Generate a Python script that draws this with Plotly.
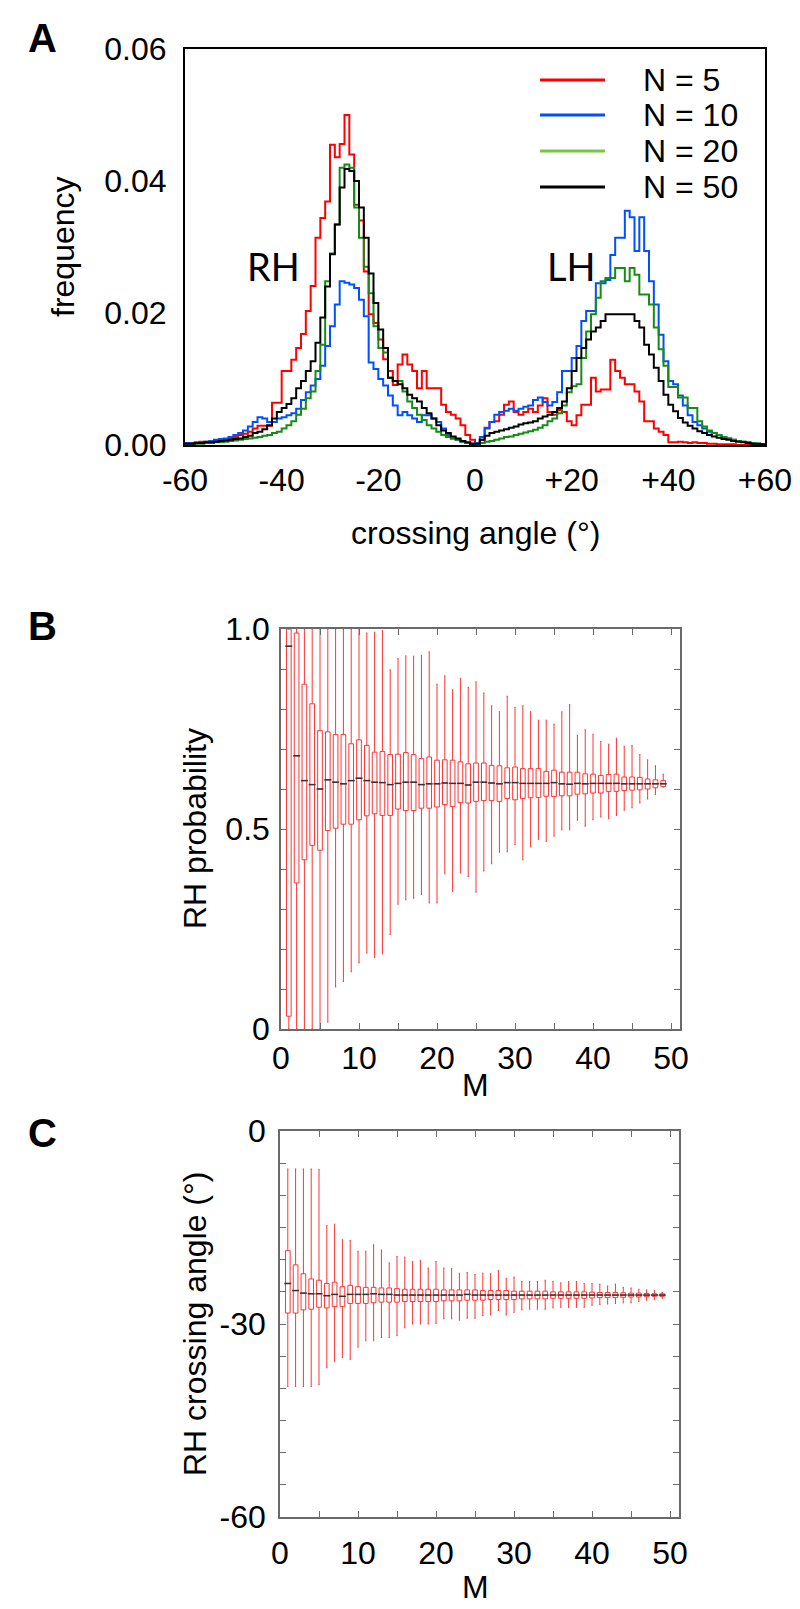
import plotly.graph_objects as go

# ---------------- Panel A data: histogram of crossing angle (1-degree bins, -60..60)
angle_edges = list(range(-60, 61))
freq_n5 = [
    0.0002, 0.0003, 0.0003, 0.0005, 0.0005, 0.0004, 0.0006, 0.0007,
    0.0008, 0.0010, 0.0012, 0.0015, 0.0017, 0.0020, 0.0025, 0.0029,
    0.0029, 0.0029, 0.0064, 0.0064, 0.0112, 0.0112, 0.0129, 0.0147,
    0.0168, 0.0203, 0.0241, 0.0314, 0.0344, 0.0369, 0.0455, 0.0436,
    0.0456, 0.0500, 0.0440, 0.0364, 0.0340, 0.0263, 0.0198, 0.0185,
    0.0160, 0.0130, 0.0112, 0.0091, 0.0122, 0.0137, 0.0122, 0.0112,
    0.0086, 0.0112, 0.0086, 0.0086, 0.0086, 0.0061, 0.0050, 0.0046,
    0.0040, 0.0030, 0.0015, 0.0008,
    0.0003, 0.0008, 0.0026, 0.0035, 0.0036, 0.0046, 0.0061, 0.0066,
    0.0050, 0.0046, 0.0050, 0.0055, 0.0050, 0.0060, 0.0071, 0.0050,
    0.0046, 0.0053, 0.0050, 0.0036, 0.0030, 0.0045, 0.0061, 0.0061,
    0.0102, 0.0081, 0.0084, 0.0084, 0.0129, 0.0112, 0.0102, 0.0092,
    0.0092, 0.0081, 0.0066, 0.0036, 0.0036, 0.0025, 0.0020, 0.0015,
    0.0004, 0.0004, 0.0005, 0.0004, 0.0003, 0.0004, 0.0003, 0.0003,
    0.0002, 0.0002, 0.0001, 0.0001, 0.0001, 0.0001, 0.0000, 0.0000,
    0.0000, 0.0000, 0.0000, 0.0000,
]
freq_n10 = [
    0.0003, 0.0002, 0.0004, 0.0003, 0.0005, 0.0006, 0.0008, 0.0009,
    0.0010, 0.0012, 0.0015, 0.0018, 0.0022, 0.0028, 0.0035, 0.0042,
    0.0040, 0.0035, 0.0035, 0.0040, 0.0042, 0.0045, 0.0048, 0.0055,
    0.0068, 0.0080, 0.0090, 0.0100, 0.0120, 0.0150, 0.0180, 0.0213,
    0.0248, 0.0246, 0.0243, 0.0238, 0.0220, 0.0195, 0.0125, 0.0115,
    0.0100, 0.0090, 0.0075, 0.0060, 0.0045, 0.0050, 0.0045, 0.0040,
    0.0035, 0.0045, 0.0045, 0.0040, 0.0035, 0.0025, 0.0015, 0.0010,
    0.0008, 0.0005, 0.0003, 0.0002,
    0.0003, 0.0012, 0.0025, 0.0035, 0.0046, 0.0050, 0.0052, 0.0055,
    0.0052, 0.0055, 0.0058, 0.0060, 0.0068, 0.0072, 0.0065, 0.0060,
    0.0065, 0.0080, 0.0112, 0.0112, 0.0132, 0.0150, 0.0188, 0.0203,
    0.0203, 0.0245, 0.0245, 0.0250, 0.0288, 0.0314, 0.0314, 0.0355,
    0.0345, 0.0294, 0.0345, 0.0294, 0.0248, 0.0213, 0.0167, 0.0127,
    0.0097, 0.0092, 0.0075, 0.0060, 0.0045, 0.0035, 0.0030, 0.0025,
    0.0020, 0.0018, 0.0015, 0.0012, 0.0010, 0.0008, 0.0006, 0.0005,
    0.0004, 0.0003, 0.0002, 0.0001,
]
freq_n20 = [
    0.0001, 0.0001, 0.0002, 0.0002, 0.0003, 0.0003, 0.0004, 0.0004,
    0.0005, 0.0006, 0.0007, 0.0008, 0.0009, 0.0010, 0.0011, 0.0012,
    0.0014, 0.0015, 0.0018, 0.0020, 0.0025, 0.0030, 0.0036, 0.0046,
    0.0055, 0.0071, 0.0081, 0.0112, 0.0152, 0.0248, 0.0290, 0.0334,
    0.0420, 0.0425, 0.0420, 0.0360, 0.0314, 0.0270, 0.0230, 0.0180,
    0.0147, 0.0140, 0.0102, 0.0097, 0.0097, 0.0081, 0.0066, 0.0056,
    0.0046, 0.0038, 0.0030, 0.0025, 0.0020, 0.0015, 0.0012, 0.0010,
    0.0008, 0.0005, 0.0003, 0.0002,
    0.0001, 0.0003, 0.0005, 0.0006, 0.0008, 0.0010, 0.0012, 0.0013,
    0.0015, 0.0017, 0.0019, 0.0021, 0.0023, 0.0026, 0.0030, 0.0036,
    0.0040, 0.0048, 0.0060, 0.0080, 0.0089, 0.0092, 0.0132, 0.0172,
    0.0198, 0.0223, 0.0248, 0.0253, 0.0253, 0.0268, 0.0268, 0.0248,
    0.0268, 0.0258, 0.0228, 0.0228, 0.0213, 0.0178, 0.0145, 0.0120,
    0.0088, 0.0088, 0.0072, 0.0072, 0.0056, 0.0056, 0.0036, 0.0028,
    0.0022, 0.0018, 0.0015, 0.0012, 0.0010, 0.0008, 0.0006, 0.0005,
    0.0004, 0.0003, 0.0002, 0.0001,
]
freq_n50 = [
    0.0002, 0.0002, 0.0003, 0.0003, 0.0004, 0.0004, 0.0005, 0.0006,
    0.0007, 0.0008, 0.0009, 0.0010, 0.0012, 0.0014, 0.0018, 0.0020,
    0.0024, 0.0030, 0.0040, 0.0050, 0.0056, 0.0062, 0.0071, 0.0086,
    0.0097, 0.0112, 0.0127, 0.0155, 0.0193, 0.0240, 0.0289, 0.0334,
    0.0390, 0.0418, 0.0415, 0.0400, 0.0360, 0.0314, 0.0260, 0.0215,
    0.0175, 0.0147, 0.0102, 0.0097, 0.0092, 0.0086, 0.0076, 0.0071,
    0.0066, 0.0056, 0.0048, 0.0040, 0.0030, 0.0022, 0.0018, 0.0013,
    0.0010, 0.0006, 0.0004, 0.0002,
    0.0002, 0.0008, 0.0014, 0.0018, 0.0020, 0.0022, 0.0024, 0.0026,
    0.0028, 0.0031, 0.0033, 0.0034, 0.0036, 0.0040, 0.0043, 0.0046,
    0.0050, 0.0056, 0.0066, 0.0086, 0.0112, 0.0132, 0.0147, 0.0160,
    0.0172, 0.0178, 0.0188, 0.0198, 0.0198, 0.0198, 0.0198, 0.0198,
    0.0198, 0.0188, 0.0178, 0.0152, 0.0137, 0.0117, 0.0097, 0.0076,
    0.0061, 0.0051, 0.0041, 0.0034, 0.0029, 0.0025, 0.0021, 0.0018,
    0.0015, 0.0013, 0.0011, 0.0009, 0.0008, 0.0006, 0.0005, 0.0004,
    0.0003, 0.0002, 0.0002, 0.0001,
]
series_names = ["N = 5", "N = 10", "N = 20", "N = 50"]
x_ticks_a = [-60, -40, -20, 0, 20, 40, 60]
x_ticktext_a = ["-60", "-40", "-20", "0", "+20", "+40", "+60"]
y_ticks_a = [0, 0.02, 0.04, 0.06]
y_ticktext_a = ["0.00", "0.02", "0.04", "0.06"]

# ---------------- Panel B data: RH probability vs M
m_values = list(range(1, 50))
prob_q1 = [0.032, 0.365, 0.423, 0.459, 0.447, 0.496, 0.502, 0.512, 0.512, 0.523,
           0.533, 0.538, 0.534, 0.534, 0.550, 0.546, 0.546, 0.552, 0.552, 0.555,
           0.561, 0.556, 0.566, 0.565, 0.569, 0.571, 0.571, 0.569, 0.576, 0.573,
           0.576, 0.578, 0.579, 0.582, 0.581, 0.583, 0.583, 0.587, 0.588, 0.590,
           0.590, 0.594, 0.594, 0.596, 0.597, 0.598, 0.600, 0.603, 0.606]
prob_median = [0.957, 0.683, 0.621, 0.611, 0.600, 0.623, 0.617, 0.613, 0.621, 0.627,
               0.621, 0.617, 0.616, 0.611, 0.614, 0.617, 0.617, 0.611, 0.613, 0.613,
               0.615, 0.614, 0.614, 0.610, 0.617, 0.617, 0.615, 0.613, 0.616, 0.616,
               0.614, 0.614, 0.614, 0.614, 0.616, 0.613, 0.612, 0.614, 0.613, 0.614,
               0.614, 0.614, 0.614, 0.613, 0.613, 0.613, 0.613, 0.613, 0.613]
prob_q3 = [1.000, 0.990, 0.862, 0.813, 0.746, 0.743, 0.736, 0.736, 0.713, 0.723,
           0.709, 0.692, 0.694, 0.686, 0.687, 0.691, 0.686, 0.676, 0.680, 0.672,
           0.673, 0.672, 0.668, 0.663, 0.665, 0.665, 0.659, 0.658, 0.653, 0.655,
           0.651, 0.651, 0.651, 0.644, 0.647, 0.642, 0.642, 0.642, 0.638, 0.637,
           0.634, 0.636, 0.637, 0.630, 0.630, 0.629, 0.625, 0.623, 0.621]
prob_min = [0.000, 0.000, 0.000, 0.000, 0.000, 0.017, 0.105, 0.119, 0.143, 0.165,
            0.190, 0.179, 0.188, 0.236, 0.312, 0.323, 0.327, 0.336, 0.315, 0.315,
            0.388, 0.344, 0.390, 0.381, 0.342, 0.395, 0.413, 0.442, 0.443, 0.461,
            0.423, 0.455, 0.474, 0.469, 0.482, 0.498, 0.498, 0.522, 0.507, 0.523,
            0.530, 0.526, 0.534, 0.547, 0.553, 0.565, 0.575, 0.586, 0.605]
prob_max = [1.000, 1.000, 1.000, 1.000, 1.000, 1.000, 1.000, 1.000, 1.000, 1.000,
            0.990, 0.992, 0.996, 0.898, 0.926, 0.933, 0.932, 0.934, 0.943, 0.862,
            0.883, 0.848, 0.876, 0.854, 0.868, 0.840, 0.808, 0.793, 0.832, 0.804,
            0.808, 0.793, 0.772, 0.772, 0.762, 0.793, 0.811, 0.734, 0.748, 0.737,
            0.719, 0.712, 0.727, 0.707, 0.709, 0.686, 0.673, 0.658, 0.637]

# ---------------- Panel C data: RH crossing angle vs M
ang_q1 = [-28.3, -28.3, -27.8, -27.7, -27.4, -27.5, -27.3, -27.3, -26.8, -26.8,
          -26.8, -26.7, -26.6, -26.6, -26.6, -26.5, -26.5, -26.5, -26.5, -26.5,
          -26.4, -26.4, -26.4, -26.3, -26.3, -26.3, -26.2, -26.2, -26.2, -26.2,
          -26.1, -26.1, -26.1, -26.1, -26.0, -26.0, -26.0, -26.0, -26.0, -25.95,
          -25.9, -25.9, -25.9, -25.85, -25.8, -25.8, -25.75, -25.7, -25.7]
ang_median = [-23.7, -24.8, -25.2, -25.3, -25.3, -25.6, -25.4, -25.7, -25.4, -25.4,
              -25.4, -25.3, -25.4, -25.4, -25.5, -25.5, -25.5, -25.5, -25.5, -25.5,
              -25.5, -25.5, -25.5, -25.4, -25.5, -25.5, -25.5, -25.5, -25.5, -25.5,
              -25.5, -25.5, -25.5, -25.5, -25.5, -25.5, -25.5, -25.5, -25.5, -25.5,
              -25.5, -25.5, -25.5, -25.5, -25.5, -25.5, -25.5, -25.5, -25.5]
ang_q3 = [-18.6, -20.8, -22.2, -23.0, -23.2, -23.7, -23.5, -24.2, -24.0, -24.2,
          -24.3, -24.3, -24.4, -24.4, -24.5, -24.6, -24.6, -24.6, -24.6, -24.6,
          -24.7, -24.7, -24.7, -24.7, -24.7, -24.8, -24.8, -24.8, -24.8, -24.9,
          -24.9, -24.9, -24.9, -24.9, -25.0, -25.0, -25.0, -25.0, -25.0, -25.05,
          -25.1, -25.1, -25.1, -25.15, -25.2, -25.2, -25.25, -25.3, -25.3]
ang_min = [-39.7, -39.7, -39.7, -39.7, -39.4, -36.8, -35.8, -35.2, -35.5, -33.6,
           -32.6, -32.6, -32.1, -32.1, -31.8, -30.6, -30.0, -30.0, -30.0, -29.9,
           -29.2, -29.2, -29.4, -29.1, -29.1, -28.7, -28.6, -27.9, -28.6, -28.2,
           -27.8, -27.7, -27.7, -27.7, -27.5, -27.4, -27.4, -27.4, -27.4, -27.1,
           -27.0, -26.9, -26.8, -26.7, -26.7, -26.5, -26.3, -26.2, -26.0]
ang_max = [-5.9, -5.9, -5.9, -5.9, -6.0, -14.7, -14.5, -16.9, -17.0, -18.7,
           -18.7, -17.7, -18.5, -20.5, -19.5, -19.6, -20.3, -20.1, -21.3, -20.3,
           -21.3, -21.4, -22.1, -22.0, -22.3, -22.1, -22.2, -21.7, -22.9, -22.7,
           -23.4, -23.4, -23.4, -23.2, -23.4, -23.6, -23.4, -23.4, -23.7, -23.7,
           -23.8, -24.1, -23.8, -24.3, -24.4, -24.6, -24.7, -24.8, -25.1]

# ---------------- styling
W, H = 800, 1609
FONT = "Liberation Sans, Arial, sans-serif"
hist_colors = ["#ff0000", "#0050ff", "#168c16", "#000000"]
legend_colors = ["#ff0000", "#0050ff", "#7cc442", "#000000"]
box_red = "#ff3434"
axis_grey = "#6a6a6a"


def px(x):
    return x / W


def py(y):
    return 1 - y / H


fig = go.Figure()

# Panel A histograms (step lines)
for vals, col, name in zip([freq_n5, freq_n10, freq_n20, freq_n50], hist_colors, series_names):
    fig.add_trace(go.Scatter(
        x=angle_edges, y=vals + [vals[-1]], mode="lines", line_shape="hv",
        line=dict(color=col, width=2), name=name, showlegend=False,
        xaxis="x", yaxis="y"))

# Panel B box plots
fig.add_trace(go.Box(
    x=m_values, q1=prob_q1, median=prob_median, q3=prob_q3,
    lowerfence=prob_min, upperfence=prob_max, orientation="v",
    line=dict(color=box_red, width=1), fillcolor="rgba(0,0,0,0)",
    width=0.6, whiskerwidth=0.25, boxpoints=False, showlegend=False,
    xaxis="x2", yaxis="y2"))
fig.add_trace(go.Scatter(
    x=m_values, y=prob_median, mode="markers", showlegend=False,
    marker=dict(symbol="line-ew", size=5, line=dict(width=1.5, color="#333333")),
    xaxis="x2", yaxis="y2"))

# Panel C box plots
fig.add_trace(go.Box(
    x=m_values, q1=ang_q1, median=ang_median, q3=ang_q3,
    lowerfence=ang_min, upperfence=ang_max, orientation="v",
    line=dict(color=box_red, width=1), fillcolor="rgba(0,0,0,0)",
    width=0.6, whiskerwidth=0.25, boxpoints=False, showlegend=False,
    xaxis="x3", yaxis="y3"))
fig.add_trace(go.Scatter(
    x=m_values, y=ang_median, mode="markers", showlegend=False,
    marker=dict(symbol="line-ew", size=5, line=dict(width=1.5, color="#333333")),
    xaxis="x3", yaxis="y3"))

tickfont = dict(family=FONT, size=32, color="black")

boxaxis_common = dict(showline=True, linecolor=axis_grey, linewidth=1.5, mirror="ticks",
                      ticks="inside", ticklen=6, tickwidth=1.2, tickcolor=axis_grey,
                      showgrid=False, zeroline=False, tickfont=tickfont,
                      automargin=False)

fig.update_layout(
    width=W, height=H,
    margin=dict(l=0, r=0, t=0, b=0, pad=0, autoexpand=False),
    paper_bgcolor="white", plot_bgcolor="white", showlegend=False,
    xaxis=dict(domain=[px(177), px(757)], range=[-60, 60], tickmode="array",
               tickvals=x_ticks_a, ticktext=x_ticktext_a, showline=True,
               linecolor="black", linewidth=2, mirror=True, ticks="",
               showgrid=False, zeroline=False, tickfont=tickfont,
               ticklabelstandoff=6, anchor="y", automargin=False),
    yaxis=dict(domain=[py(437), py(41)], range=[0, 0.06], tickmode="array",
               tickvals=y_ticks_a, ticktext=y_ticktext_a, showline=True,
               linecolor="black", linewidth=2, mirror=True, ticks="",
               showgrid=False, zeroline=False, tickfont=tickfont,
               ticklabelstandoff=10, anchor="x", automargin=False),
    xaxis2=dict(domain=[px(273), px(672)], range=[0, 51.15], tickmode="array",
                tickvals=[0, 10, 20, 30, 40, 50],
                minor=dict(tickvals=[5, 15, 25, 35, 45], ticks="inside", ticklen=6,
                           tickcolor=axis_grey, tickwidth=1.2),
                anchor="y2", **boxaxis_common),
    yaxis2=dict(domain=[py(1021), py(621)], range=[0, 1], tickmode="array",
                tickvals=[0, 0.5, 1.0], ticktext=["0", "0.5", "1.0"],
                minor=dict(tickvals=[0.1, 0.2, 0.3, 0.4, 0.6, 0.7, 0.8, 0.9],
                           ticks="inside", ticklen=6, tickcolor=axis_grey, tickwidth=1.2),
                ticklabelstandoff=3, anchor="x2", **boxaxis_common),
    xaxis3=dict(domain=[px(272), px(671)], range=[0, 51.15], tickmode="array",
                tickvals=[0, 10, 20, 30, 40, 50],
                minor=dict(tickvals=[5, 15, 25, 35, 45], ticks="inside", ticklen=6,
                           tickcolor=axis_grey, tickwidth=1.2),
                ticklabelstandoff=7, anchor="y3", **boxaxis_common),
    yaxis3=dict(domain=[py(1509), py(1123)], range=[-60, 0], tickmode="array",
                tickvals=[-60, -30, 0], ticktext=["-60", "-30", "0"],
                minor=dict(tickvals=[-55, -50, -45, -40, -35, -25, -20, -15, -10, -5],
                           ticks="inside", ticklen=6, tickcolor=axis_grey, tickwidth=1.2),
                ticklabelstandoff=6, anchor="x3", **boxaxis_common),
)

annotations = []


def txt(text, x, y, size=32, bold=False, angle=0, xanchor="center", family=FONT):
    annotations.append(dict(
        text=("<b>%s</b>" % text) if bold else text, x=px(x), y=py(y),
        xref="paper", yref="paper", xanchor=xanchor, yanchor="middle",
        showarrow=False, textangle=angle,
        font=dict(family=family, size=size, color="black")))


# panel letters
txt("A", 18, 30, size=40, bold=True, xanchor="left")
txt("B", 18, 618, size=40, bold=True, xanchor="left")
txt("C", 18, 1125, size=40, bold=True, xanchor="left")
# axis titles
txt("frequency", 55, 239, angle=-90)
txt("crossing angle (°)", 467, 525)
txt("RH probability", 187, 821, angle=-90)
txt("M", 467, 1077)
txt("RH crossing angle (°)", 187, 1316, angle=-90)
txt("M", 467, 1579)
# peak labels
txt("RH", 265, 258, size=38, family="Lato, Liberation Sans, sans-serif")
txt("LH", 563, 258, size=38, family="Lato, Liberation Sans, sans-serif")

# manual legend
shapes = []
legend_rows = [72, 107, 143, 179]
for name, col, yrow in zip(series_names, legend_colors, legend_rows):
    shapes.append(dict(type="line", xref="paper", yref="paper",
                       x0=px(532), x1=px(597), y0=py(yrow), y1=py(yrow),
                       line=dict(color=col, width=3)))
    txt(name, 633, yrow, xanchor="left")

fig.update_layout(annotations=annotations, shapes=shapes)

fig.write_html("out.html")
